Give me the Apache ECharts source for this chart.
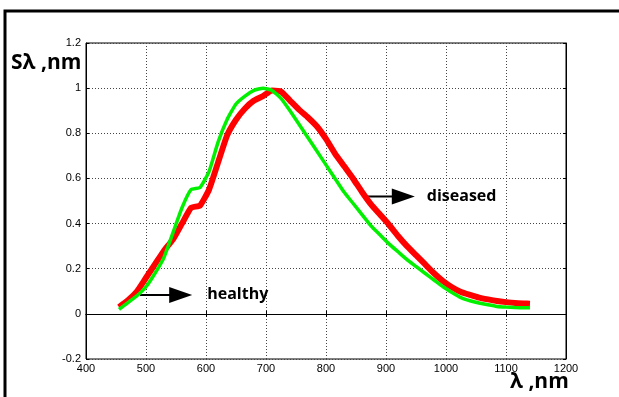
<!DOCTYPE html>
<html>
<head>
<meta charset="utf-8">
<script src="https://cdn.jsdelivr.net/npm/echarts@6/dist/echarts.min.js"></script>
<style>
  html, body { margin: 0; padding: 0; background: #fff; }
  #chart { width: 619px; height: 397px; }
</style>
</head>
<body>
<div id="chart"></div>
<script>
// wavelength, nm
var wavelength = [455, 470, 485, 500, 515, 530, 545, 560, 575, 590, 605, 620, 635, 650, 665, 680, 695,
    710, 725, 740, 755, 770, 785, 800, 815, 830, 845, 860, 875, 890, 905, 920, 935, 950, 965, 980,
    995, 1010, 1025, 1040, 1055, 1070, 1085, 1100, 1115, 1130, 1140];

// healthy (green)
var healthy = [0.02, 0.05, 0.08, 0.12, 0.18, 0.25, 0.36, 0.47, 0.55, 0.56, 0.63, 0.76, 0.86, 0.93, 0.965, 0.99, 1.0,
    0.99, 0.955, 0.90, 0.84, 0.78, 0.72, 0.66, 0.60, 0.54, 0.49, 0.44, 0.39, 0.35, 0.31, 0.275, 0.24, 0.21, 0.18, 0.15,
    0.12, 0.095, 0.072, 0.058, 0.048, 0.04, 0.033, 0.03, 0.028, 0.027, 0.027];

// diseased (red)
var diseased = [0.03, 0.06, 0.10, 0.16, 0.22, 0.28, 0.33, 0.40, 0.47, 0.48, 0.55, 0.67, 0.79, 0.86, 0.91, 0.945, 0.965,
    0.99, 0.985, 0.945, 0.905, 0.87, 0.83, 0.775, 0.71, 0.655, 0.60, 0.54, 0.485, 0.44, 0.395, 0.345, 0.30, 0.26, 0.22, 0.18,
    0.145, 0.118, 0.097, 0.084, 0.072, 0.064, 0.057, 0.052, 0.048, 0.046, 0.045];

// annotations: arrow start/end wavelength, level, label
var notes = [
    { from: 490, to: 577, y: 0.084, text: 'healthy', textX: 602 },
    { from: 862, to: 948, y: 0.52, text: 'diseased', textX: 968 }
];

function pairs(xs, ys) {
    return xs.map(function (x, i) { return [x, ys[i]]; });
}

var chart = echarts.init(document.getElementById('chart'));

var gridLine = { show: true, lineStyle: { color: '#444', type: [1, 2], width: 1 } };
var tickFont = { color: '#000', fontSize: 11, fontFamily: 'Liberation Sans, Arial' };

chart.setOption({
    animation: false,
    grid: { left: 86, top: 43, right: 53, bottom: 38, show: true, borderColor: '#000', borderWidth: 1 },
    xAxis: [
        {
            type: 'value', min: 400, max: 1200, interval: 100,
            axisLine: { lineStyle: { color: '#000' } },
            axisTick: { inside: true, length: 3, lineStyle: { color: '#000' } },
            axisLabel: Object.assign({ margin: 4, formatter: function (v) { return String(v); } }, tickFont),
            splitLine: gridLine
        },
        {
            type: 'value', position: 'top', min: 400, max: 1200, interval: 100,
            axisLine: { lineStyle: { color: '#000' } },
            axisTick: { inside: true, length: 3, lineStyle: { color: '#000' } },
            axisLabel: { show: false }, splitLine: { show: false }
        }
    ],
    yAxis: [
        {
            type: 'value', min: -0.2, max: 1.2, interval: 0.2,
            axisLine: { show: true, lineStyle: { color: '#000' } },
            axisTick: { show: true, inside: true, length: 3, lineStyle: { color: '#000' } },
            axisLabel: Object.assign({ margin: 5 }, tickFont),
            splitLine: gridLine
        },
        {
            type: 'value', position: 'right', min: -0.2, max: 1.2, interval: 0.2,
            axisLine: { show: true, lineStyle: { color: '#000' } },
            axisTick: { show: true, inside: true, length: 3, lineStyle: { color: '#000' } },
            axisLabel: { show: false }, splitLine: { show: false }
        }
    ],
    series: [
        {
            name: 'diseased', type: 'line', showSymbol: false, smooth: 0.15,
            lineStyle: { color: '#ff0000', width: 6 },
            data: pairs(wavelength, diseased)
        },
        {
            name: 'healthy', type: 'line', showSymbol: false, smooth: 0.15,
            lineStyle: { color: '#00f000', width: 3.5 },
            data: pairs(wavelength, healthy)
        }
    ]
});

// frame, axis names and arrow notes
var labelFont = 'bold 21px "Open Sans", "Liberation Sans", sans-serif';
var graphics = [
    { type: 'rect', shape: { x: 5, y: 11, width: 700, height: 500 }, style: { fill: null, stroke: '#000', lineWidth: 3 } },
    { type: 'text', left: 11, top: 53, style: { text: 'Sλ ,nm', font: labelFont, fill: '#000' } },
    { type: 'text', left: 510, top: 372, style: { text: 'λ ,nm', font: labelFont, fill: '#000' } }
];
notes.forEach(function (n) {
    var a = chart.convertToPixel({ gridIndex: 0 }, [n.from, n.y]);
    var b = chart.convertToPixel({ gridIndex: 0 }, [n.to, n.y]);
    var t = chart.convertToPixel({ gridIndex: 0 }, [n.textX, n.y]);
    graphics.push({ type: 'line', shape: { x1: a[0], y1: a[1], x2: b[0] - 20, y2: b[1] }, style: { stroke: '#000', lineWidth: 2 } });
    graphics.push({ type: 'polygon', shape: { points: [[b[0] - 23, b[1] - 8], [b[0], b[1]], [b[0] - 23, b[1] + 8]] }, style: { fill: '#000' } });
    graphics.push({ type: 'text', x: t[0], y: t[1], style: { text: n.text, font: 'bold 16px "Open Sans", "Liberation Sans", sans-serif', fill: '#000', verticalAlign: 'middle' } });
});
chart.setOption({ graphic: graphics });
</script>
</body>
</html>
